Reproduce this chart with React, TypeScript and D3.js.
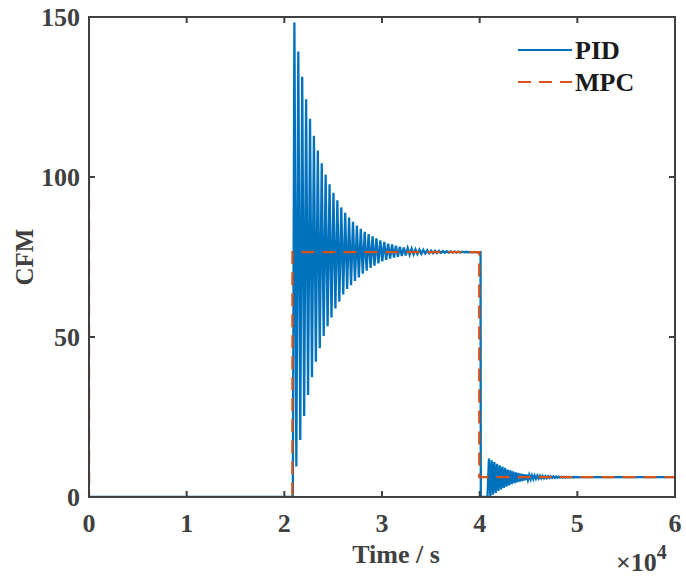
import React from "react";
import * as d3 from "d3";

// ---- Data ----
// PID: first disturbance segment, peak / trough times (s) and values (CFM)
const seg1PeakT = [21030,21430,21830,22230,22630,23030,23430,23830,24230,24630,25030,25430,25830,26230,26630,27030,27430,27830,28230,28630,29030,29430,29830,30230,30630,31030,31430,31830,32230,32630,33030,33430,33830,34230,34630,35030,35430,35830,36230,36630,37030,37430,37830,38230,38630,39030,39430];
const seg1PeakV = [148.3,139.2,131.3,124.3,118.2,112.9,108.3,104.3,100.8,97.7,95.1,92.7,90.5,88.8,87.3,86.0,84.8,83.8,82.9,82.2,81.5,80.8,80.2,79.7,79.2,78.9,78.5,78.2,78.0,77.8,77.6,77.4,77.3,77.2,77.1,77.0,76.95,76.9,76.85,76.8,76.75,76.7,76.68,76.65,76.62,76.6,76.58];
const seg1TroughT = [21230,21630,22030,22430,22830,23230,23630,24030,24430,24830,25230,25630,26030,26430,26830,27230,27630,28030,28430,28830,29230,29630,30030,30430,30830,31230,31630,32030,32430,32830,33230,33630,34030,34430,34830,35230,35630,36030,36430,36830,37230,37630,38030,38430,38830,39230,39630];
const seg1TroughV = [9.5,17.8,25.3,31.9,37.4,42.3,46.5,50.3,53.4,56.1,58.9,61.0,63.3,65.0,66.2,67.5,68.6,69.8,70.7,71.6,72.3,73.0,73.6,74.1,74.5,74.8,75.1,75.3,75.5,75.7,75.8,75.9,76.0,76.1,76.15,76.2,76.25,76.3,76.33,76.36,76.39,76.41,76.43,76.45,76.46,76.47,76.48];

// PID: second segment
const seg2PeakT = [40950,41225,41500,41775,42050,42325,42600,42875,43150,43425,43700,43975,44250,44525,44800,45075,45350,45625,45900,46175,46450,46725,47000,47275,47550,47825,48100,48375,48650,48925,49200,49475,49750,50025];
const seg2PeakV = [12.0,11.5,10.9,10.4,9.9,9.5,9.1,8.6,8.3,8.0,7.7,7.5,7.3,7.1,7.0,6.9,6.8,6.73,6.67,6.61,6.56,6.52,6.48,6.45,6.42,6.39,6.37,6.35,6.33,6.32,6.3,6.29,6.28,6.27];
const seg2TroughT = [41090,41365,41640,41915,42190,42465,42740,43015,43290,43565,43840,44115,44390,44665,44940,45215,45490,45765,46040,46315,46590,46865,47140,47415,47690,47965,48240,48515,48790,49065,49340,49615,49890,50165];
const seg2TroughV = [0.3,0.7,1.3,1.9,2.4,2.8,3.2,3.6,4.0,4.3,4.6,4.8,5.0,5.2,5.35,5.5,5.6,5.68,5.75,5.81,5.86,5.9,5.94,5.97,6.0,6.03,6.05,6.07,6.08,6.1,6.11,6.12,6.13,6.14];

// PID: flat / step pieces
const pidStartT = [0, 20870];
const pidStartV = [0, 0];
const pidMidT = [39830, 40090, 40120, 40800];
const pidMidV = [76.5, 76.5, 0, 0];
const pidEndT = [50400, 60000];
const pidEndV = [6.2, 6.2];

// MPC
const mpcT = [0, 10, 20820, 20830, 39950, 39960, 60000];
const mpcV = [100, 0, 0, 76.5, 76.5, 6.2, 6.2];

const xTicks = [0, 1, 2, 3, 4, 5, 6];
const yTicks = [0, 50, 100, 150];
const seriesNames = ["PID", "MPC"];

type P = [number, number];
const zip = (t: number[], v: number[]): P[] => t.map((x, i) => [x, v[i]]);
const interleave = (a: P[], b: P[]): P[] => {
  const out: P[] = [];
  a.forEach((p, i) => {
    out.push(p);
    if (b[i]) out.push(b[i]);
  });
  return out;
};

const pidData: P[] = [
  ...zip(pidStartT, pidStartV),
  ...interleave(zip(seg1PeakT, seg1PeakV), zip(seg1TroughT, seg1TroughV)),
  ...zip(pidMidT, pidMidV),
  ...interleave(zip(seg2PeakT, seg2PeakV), zip(seg2TroughT, seg2TroughV)),
  ...zip(pidEndT, pidEndV),
];
const mpcData: P[] = zip(mpcT, mpcV);

const W = 686, H = 578;
const M = { left: 89, right: 675, top: 17, bottom: 497 };
const BLUE = "#0072BD";
const ORANGE = "#D95319";
const AX = "#404040";
const FONT = "'Liberation Serif', 'Times New Roman', serif";

export default function App() {
  const x = d3.scaleLinear().domain([0, 60000]).range([M.left, M.right]);
  const y = d3.scaleLinear().domain([0, 150]).range([M.bottom, M.top]);
  const line = d3
    .line<P>()
    .x((d) => x(d[0]))
    .y((d) => y(d[1]));
  const tl = 6;
  return (
    <svg
      width={W}
      height={H}
      style={{ position: "absolute", left: 0, top: 0, background: "#fff" }}
      fontFamily={FONT}
      fontWeight="bold"
    >
      <rect x={0} y={0} width={W} height={H} fill="#fff" />
      <defs>
        <clipPath id="plotclip">
          <rect x={M.left} y={M.top} width={M.right - M.left} height={M.bottom - M.top} />
        </clipPath>
      </defs>
      <g clipPath="url(#plotclip)">
        <path d={line(pidData) || ""} fill="none" stroke={BLUE} strokeWidth={2.3} strokeLinejoin="miter" />
        <path d={line(mpcData) || ""} fill="none" stroke={ORANGE} strokeWidth={2.2} strokeDasharray="13,8" />
      </g>
      {/* box */}
      <rect x={M.left} y={M.top} width={M.right - M.left} height={M.bottom - M.top} fill="none" stroke={AX} strokeWidth={2} />
      {/* ticks */}
      {xTicks.map((t) => (
        <g key={"x" + t}>
          <line x1={x(t * 10000)} x2={x(t * 10000)} y1={M.bottom} y2={M.bottom - tl} stroke={AX} strokeWidth={2} />
          <line x1={x(t * 10000)} x2={x(t * 10000)} y1={M.top} y2={M.top + tl} stroke={AX} strokeWidth={2} />
          <text x={x(t * 10000)} y={532} textAnchor="middle" fontSize={26} fill={AX}>
            {t}
          </text>
        </g>
      ))}
      {yTicks.map((t) => (
        <g key={"y" + t}>
          <line x1={M.left} x2={M.left + tl} y1={y(t)} y2={y(t)} stroke={AX} strokeWidth={2} />
          <line x1={M.right} x2={M.right - tl} y1={y(t)} y2={y(t)} stroke={AX} strokeWidth={2} />
          <text x={80} y={y(t) + 9} textAnchor="end" fontSize={26} fill={AX}>
            {t}
          </text>
        </g>
      ))}
      {/* axis labels */}
      <text x={396} y={563} textAnchor="middle" fontSize={26} fill={AX}>
        Time / s
      </text>
      <text transform={`translate(33, ${(M.top + M.bottom) / 2}) rotate(-90)`} textAnchor="middle" fontSize={25} fill={AX}>
        CFM
      </text>
      {/* exponent */}
      <text x={616} y={571} fontSize={26} fill={AX}>
        ×10
        <tspan dy={-12} fontSize={20}>4</tspan>
      </text>
      {/* legend */}
      <line x1={518} x2={572} y1={50} y2={50} stroke={BLUE} strokeWidth={2} />
      <text x={575} y={59} fontSize={26} fill="#1a1a1a">{seriesNames[0]}</text>
      <line x1={518} x2={572} y1={82} y2={82} stroke={ORANGE} strokeWidth={2} strokeDasharray="13,8" />
      <text x={575} y={91} fontSize={26} fill="#1a1a1a">{seriesNames[1]}</text>
    </svg>
  );
}
